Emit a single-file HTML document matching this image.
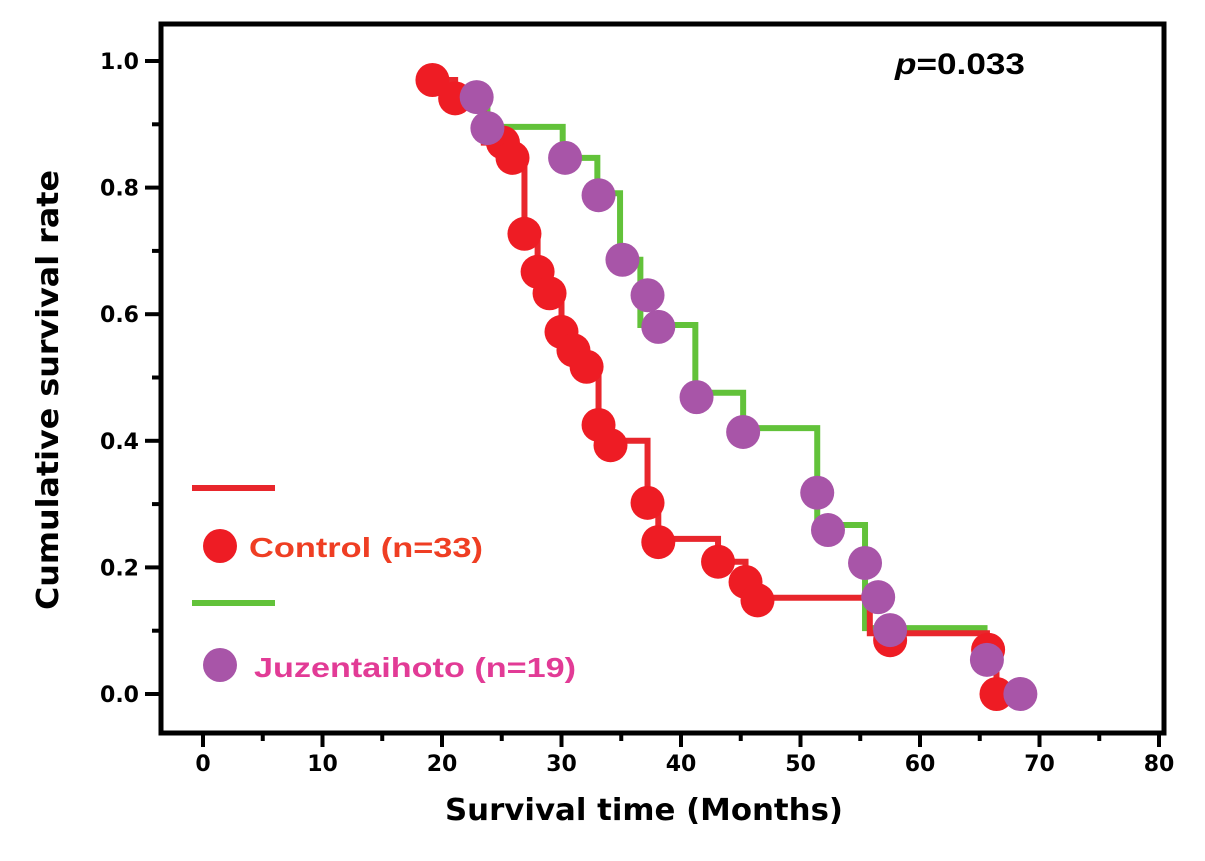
<!DOCTYPE html>
<html><head><meta charset="utf-8"><style>
html,body{margin:0;padding:0;background:#fff;}
svg{display:block;}
</style></head><body>
<svg id="chart" width="1205" height="861" viewBox="0 0 1205 861" xmlns="http://www.w3.org/2000/svg">
<rect x="161" y="24" width="1003" height="709" fill="none" stroke="#000" stroke-width="5"/>
<g id="axes"></g>
<g id="series"></g>
<text x="895" y="74" font-family="Liberation Sans, sans-serif" font-weight="bold" font-size="30" textLength="130" lengthAdjust="spacingAndGlyphs"><tspan font-style="italic">p</tspan>=0.033</text>
<text transform="translate(58,390) rotate(-90)" text-anchor="middle" font-family="DejaVu Sans, sans-serif" font-weight="bold" font-size="30" textLength="440" lengthAdjust="spacingAndGlyphs">Cumulative survival rate</text>
<text x="644" y="820" text-anchor="middle" font-family="DejaVu Sans, sans-serif" font-weight="bold" font-size="30" textLength="398" lengthAdjust="spacingAndGlyphs">Survival time  (Months)</text>
<line x1="192" y1="488" x2="275" y2="488" stroke="#e8262c" stroke-width="6"/>
<circle cx="220" cy="546" r="17" fill="#ee1c24"/>
<text x="249" y="557" fill="#ef3e23" font-family="Liberation Sans, sans-serif" font-weight="bold" font-size="28" textLength="234" lengthAdjust="spacingAndGlyphs">Control (n=33)</text>
<line x1="192" y1="603" x2="275" y2="603" stroke="#62c23a" stroke-width="6"/>
<circle cx="220" cy="665" r="17" fill="#a855a8"/>
<text x="254" y="677" fill="#e23b96" font-family="Liberation Sans, sans-serif" font-weight="bold" font-size="28" textLength="322" lengthAdjust="spacingAndGlyphs">Juzentaihoto (n=19)</text>
</svg>
<script>
const xTicks = [0,10,20,30,40,50,60,70,80];
const yTicks = [0.0,0.2,0.4,0.6,0.8,1.0];
const yTickLabels = ["0.0","0.2","0.4","0.6","0.8","1.0"];
// Control (red)
const controlStepTimes = [19.2,21.1,23.5,25.9,26.9,28.0,29.0,30.0,31.0,32.1,33.1,34.1,37.2,38.1,43.1,45.4,46.4,55.8,65.6,66.4];
const controlStepLevels = [0.970,0.941,0.871,0.847,0.727,0.667,0.633,0.572,0.543,0.517,0.425,0.400,0.302,0.245,0.209,0.177,0.152,0.096,0.070,0.0];
const controlMarkerTimes = [19.2,21.1,25.1,25.9,26.9,28.0,29.0,30.0,31.0,32.1,33.1,34.1,37.2,38.1,43.1,45.4,46.4,57.5,65.7,66.4];
const controlMarkerLevels = [0.970,0.941,0.871,0.847,0.727,0.667,0.633,0.572,0.543,0.517,0.425,0.393,0.302,0.240,0.209,0.177,0.148,0.085,0.070,0.0];
// Juzentaihoto (green line, purple markers)
const juzenStepTimes = [22.9,23.8,30.1,33.0,34.9,36.6,41.2,45.2,51.4,55.4,65.4];
const juzenStepLevels = [0.943,0.896,0.847,0.791,0.686,0.583,0.476,0.420,0.267,0.104,0.040];
const juzenMarkerTimes = [22.9,23.8,30.3,33.1,35.1,37.2,38.1,41.3,45.2,51.4,52.3,55.4,56.5,57.5,65.6,68.4];
const juzenMarkerLevels = [0.943,0.894,0.847,0.788,0.686,0.630,0.580,0.469,0.414,0.318,0.259,0.207,0.153,0.101,0.054,0.0];

const NS = "http://www.w3.org/2000/svg";
const X = t => 203 + 11.95 * t;
const Y = v => 694 - 633 * v;
const axes = document.getElementById('axes');
const series = document.getElementById('series');
function mk(tag, attrs, parent){const e=document.createElementNS(NS,tag);for(const k in attrs)e.setAttribute(k,attrs[k]);parent.appendChild(e);return e;}

for (let i=0;i<xTicks.length;i++){
  const t=xTicks[i];
  const tk=mk('line',{x1:X(t),y1:733,x2:X(t),y2:747,stroke:'#000','stroke-width':4},axes);
  
  
  if(i<xTicks.length-1){
    const m=mk('line',{x1:X(t+5),y1:733,x2:X(t+5),y2:741,stroke:'#000','stroke-width':4},axes);
    
    
  }
  const lb=mk('text',{x:X(t),y:771,'text-anchor':'middle','font-family':'DejaVu Sans, sans-serif','font-weight':'bold','font-size':22},axes);
  lb.textContent=String(t);
  
  
}
for (let i=0;i<yTicks.length;i++){
  const v=yTicks[i];
  const tk=mk('line',{x1:145,y1:Y(v),x2:161,y2:Y(v),stroke:'#000','stroke-width':4},axes);
  
  
  if(i<yTicks.length-1){
    const m=mk('line',{x1:152,y1:Y(v+0.1),x2:161,y2:Y(v+0.1),stroke:'#000','stroke-width':4},axes);
    
    
  }
  const lb=mk('text',{x:139,y:Y(v)+8,'text-anchor':'end','font-family':'DejaVu Sans, sans-serif','font-weight':'bold','font-size':22},axes);
  lb.textContent=yTickLabels[i];
  
  
}
function stepPath(ts, ls){
  let d='M'+X(ts[0])+' '+Y(ls[0]);
  for(let i=1;i<ts.length;i++){d+=' H'+X(ts[i])+' V'+Y(ls[i]);}
  return d;
}
const gl=mk('path',{d:stepPath(juzenStepTimes,juzenStepLevels),fill:'none',stroke:'#62c23a','stroke-width':6},series);


const rl=mk('path',{d:stepPath(controlStepTimes,controlStepLevels),fill:'none',stroke:'#e8262c','stroke-width':6},series);


for(let i=0;i<controlMarkerTimes.length;i++){
  const c=mk('circle',{cx:X(controlMarkerTimes[i]),cy:Y(controlMarkerLevels[i]),r:17,fill:'#ee1c24'},series);
  
  
}
for(let i=0;i<juzenMarkerTimes.length;i++){
  const c=mk('circle',{cx:X(juzenMarkerTimes[i]),cy:Y(juzenMarkerLevels[i]),r:17,fill:'#a855a8'},series);
  
  
}
</script>
</body></html>
